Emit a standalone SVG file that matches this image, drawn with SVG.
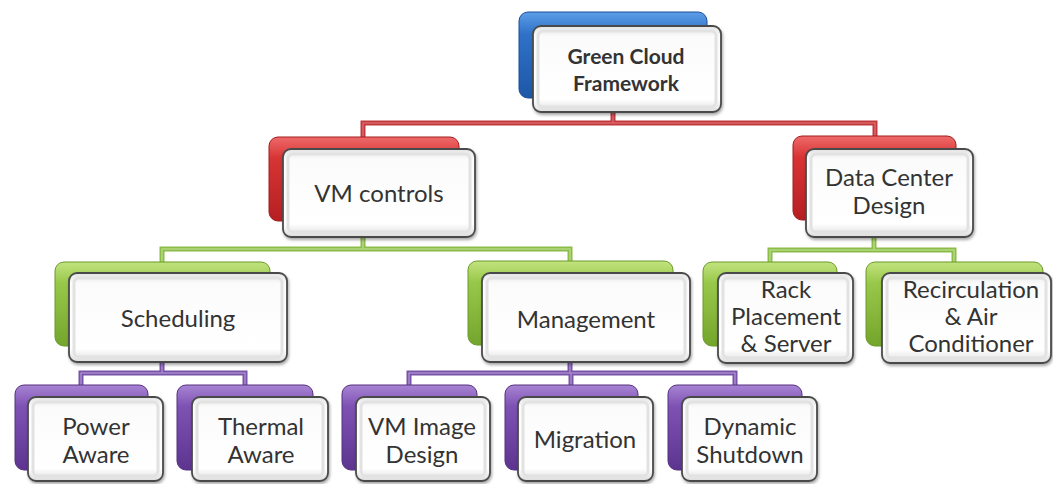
<svg xmlns="http://www.w3.org/2000/svg" width="1053" height="484" viewBox="0 0 1053 484">
  <defs>
    <linearGradient id="gBlue" x1="0" y1="0" x2="0" y2="1">
      <stop offset="0" stop-color="#5d9ee8"/>
      <stop offset="0.25" stop-color="#2f72c8"/>
      <stop offset="1" stop-color="#1d57a8"/>
    </linearGradient>
    <linearGradient id="gRed" x1="0" y1="0" x2="0" y2="1">
      <stop offset="0" stop-color="#ee6a6a"/>
      <stop offset="0.25" stop-color="#d83434"/>
      <stop offset="1" stop-color="#b51f22"/>
    </linearGradient>
    <linearGradient id="gGreen" x1="0" y1="0" x2="0" y2="1">
      <stop offset="0" stop-color="#c2e37e"/>
      <stop offset="0.25" stop-color="#98c84a"/>
      <stop offset="1" stop-color="#74a52c"/>
    </linearGradient>
    <linearGradient id="gPurple" x1="0" y1="0" x2="0" y2="1">
      <stop offset="0" stop-color="#a884d4"/>
      <stop offset="0.25" stop-color="#7e52b4"/>
      <stop offset="1" stop-color="#5e3490"/>
    </linearGradient>
    <linearGradient id="gFace" x1="0" y1="0" x2="0" y2="1">
      <stop offset="0" stop-color="#e4e4e4"/>
      <stop offset="0.12" stop-color="#fbfbfb"/>
      <stop offset="0.85" stop-color="#ffffff"/>
      <stop offset="1" stop-color="#dcdcdc"/>
    </linearGradient>
    <filter id="shadow" x="-10%" y="-10%" width="125%" height="130%">
      <feDropShadow dx="1" dy="2" stdDeviation="1.5" flood-color="#000" flood-opacity="0.35"/>
    </filter>
  </defs>
  <style>
    .back { stroke-width: 1; }
    .blue { fill: url(#gBlue); stroke: #1a4f98; }
    .red { fill: url(#gRed); stroke: #a01c1f; }
    .green { fill: url(#gGreen); stroke: #6a9a28; }
    .purple { fill: url(#gPurple); stroke: #55307f; }
    .face { fill: url(#gFace); stroke: #4a4a4a; stroke-width: 1.8; filter: url(#shadow); }
    .bevel { fill: none; stroke: #e2e2e2; stroke-width: 3; }
    .lbl { font-family: Lato, "Open Sans", sans-serif; font-size: 24px; fill: #333333; text-anchor: middle; }
    .title { font-weight: bold; font-size: 21px; }
    .wire { fill: none; stroke-linecap: square; stroke-linejoin: miter; }
    .o { stroke-width: 5; }
    .i { stroke-width: 1.6; }
    .rO { stroke: #c0393e; } .rI { stroke: #dc6466; }
    .gO { stroke: #8cbc48; } .gI { stroke: #b4d883; }
    .pO { stroke: #7854a8; } .pI { stroke: #a688cc; }
  </style>

  <rect width="1053" height="484" fill="#ffffff"/>

  <!-- connectors -->
  <g id="connectors">
    <path class="wire o rO" d="M613 112 V123 M363 137 V123 H875 V136"/>
    <path class="wire i rI" d="M613 112 V123 M363 137 V123 H875 V136"/>
    <path class="wire o gO" d="M363 237 V249 M162 262 V249 H570 V261 M874 237 V250 M770 262 V250 H954 V262"/>
    <path class="wire i gI" d="M363 237 V249 M162 262 V249 H570 V261 M874 237 V250 M770 262 V250 H954 V262"/>
    <path class="wire o pO" d="M162 362 V373 M81 385 V373 H245 V385 M570 362 V373 M409 385 V373 H735 V385 M571 373 V385"/>
    <path class="wire i pI" d="M162 362 V373 M81 385 V373 H245 V385 M570 362 V373 M409 385 V373 H735 V385 M571 373 V385"/>
  </g>

  <!-- level 0 -->
  <g id="green-cloud-framework">
    <rect class="back blue" x="519" y="12" width="188" height="86" rx="9"/>
    <rect class="face" x="533" y="26" width="188" height="86" rx="8"/>
    <rect class="bevel" x="538" y="31" width="178" height="76" rx="5"/>
    <text class="lbl title" x="626" y="64">Green Cloud</text>
    <text class="lbl title" x="626" y="91">Framework</text>
  </g>

  <!-- level 1 -->
  <g id="vm-controls">
    <rect class="back red" x="269" y="137" width="190" height="84" rx="9"/>
    <rect class="face" x="283" y="149" width="192" height="88" rx="8"/>
    <rect class="bevel" x="288" y="154" width="182" height="78" rx="5"/>
    <text class="lbl" x="379" y="202">VM controls</text>
  </g>
  <g id="data-center-design">
    <rect class="back red" x="793" y="136" width="163" height="84" rx="9"/>
    <rect class="face" x="806" y="149" width="167" height="88" rx="8"/>
    <rect class="bevel" x="811" y="154" width="157" height="78" rx="5"/>
    <text class="lbl" x="889" y="186">Data Center</text>
    <text class="lbl" x="889" y="214">Design</text>
  </g>

  <!-- level 2 -->
  <g id="scheduling">
    <rect class="back green" x="55" y="262" width="215" height="84" rx="9"/>
    <rect class="face" x="69" y="273" width="218" height="89" rx="8"/>
    <rect class="bevel" x="74" y="278" width="208" height="79" rx="5"/>
    <text class="lbl" x="178" y="327">Scheduling</text>
  </g>
  <g id="management">
    <rect class="back green" x="468" y="261" width="205" height="84" rx="9"/>
    <rect class="face" x="482" y="273" width="208" height="89" rx="8"/>
    <rect class="bevel" x="487" y="278" width="198" height="79" rx="5"/>
    <text class="lbl" x="586" y="328">Management</text>
  </g>
  <g id="rack-placement">
    <rect class="back green" x="703" y="262" width="134" height="84" rx="9"/>
    <rect class="face" x="718" y="273" width="135" height="90" rx="8"/>
    <rect class="bevel" x="723" y="278" width="125" height="80" rx="5"/>
    <text class="lbl" x="786" y="298">Rack</text>
    <text class="lbl" x="786" y="325">Placement</text>
    <text class="lbl" x="786" y="352">&amp; Server</text>
  </g>
  <g id="recirculation">
    <rect class="back green" x="866" y="262" width="177" height="84" rx="9"/>
    <rect class="face" x="882" y="273" width="169" height="90" rx="8"/>
    <rect class="bevel" x="887" y="278" width="159" height="80" rx="5"/>
    <text class="lbl" x="971" y="298">Recirculation</text>
    <text class="lbl" x="971" y="325">&amp; Air</text>
    <text class="lbl" x="971" y="352">Conditioner</text>
  </g>

  <!-- level 3 -->
  <g id="power-aware">
    <rect class="back purple" x="15" y="385" width="133" height="85" rx="9"/>
    <rect class="face" x="28" y="397" width="135" height="84" rx="8"/>
    <rect class="bevel" x="33" y="402" width="125" height="74" rx="5"/>
    <text class="lbl" x="96" y="435">Power</text>
    <text class="lbl" x="96" y="463">Aware</text>
  </g>
  <g id="thermal-aware">
    <rect class="back purple" x="177" y="385" width="136" height="85" rx="9"/>
    <rect class="face" x="192" y="397" width="136" height="84" rx="8"/>
    <rect class="bevel" x="197" y="402" width="126" height="74" rx="5"/>
    <text class="lbl" x="261" y="435">Thermal</text>
    <text class="lbl" x="261" y="463">Aware</text>
  </g>
  <g id="vm-image-design">
    <rect class="back purple" x="342" y="385" width="135" height="85" rx="9"/>
    <rect class="face" x="356" y="397" width="134" height="84" rx="8"/>
    <rect class="bevel" x="361" y="402" width="124" height="74" rx="5"/>
    <text class="lbl" x="422" y="435">VM Image</text>
    <text class="lbl" x="422" y="463">Design</text>
  </g>
  <g id="migration">
    <rect class="back purple" x="505" y="385" width="133" height="85" rx="9"/>
    <rect class="face" x="518" y="397" width="135" height="84" rx="8"/>
    <rect class="bevel" x="523" y="402" width="125" height="74" rx="5"/>
    <text class="lbl" x="585" y="448">Migration</text>
  </g>
  <g id="dynamic-shutdown">
    <rect class="back purple" x="668" y="385" width="134" height="85" rx="9"/>
    <rect class="face" x="682" y="397" width="135" height="84" rx="8"/>
    <rect class="bevel" x="687" y="402" width="125" height="74" rx="5"/>
    <text class="lbl" x="750" y="435">Dynamic</text>
    <text class="lbl" x="750" y="463">Shutdown</text>
  </g>
</svg>
